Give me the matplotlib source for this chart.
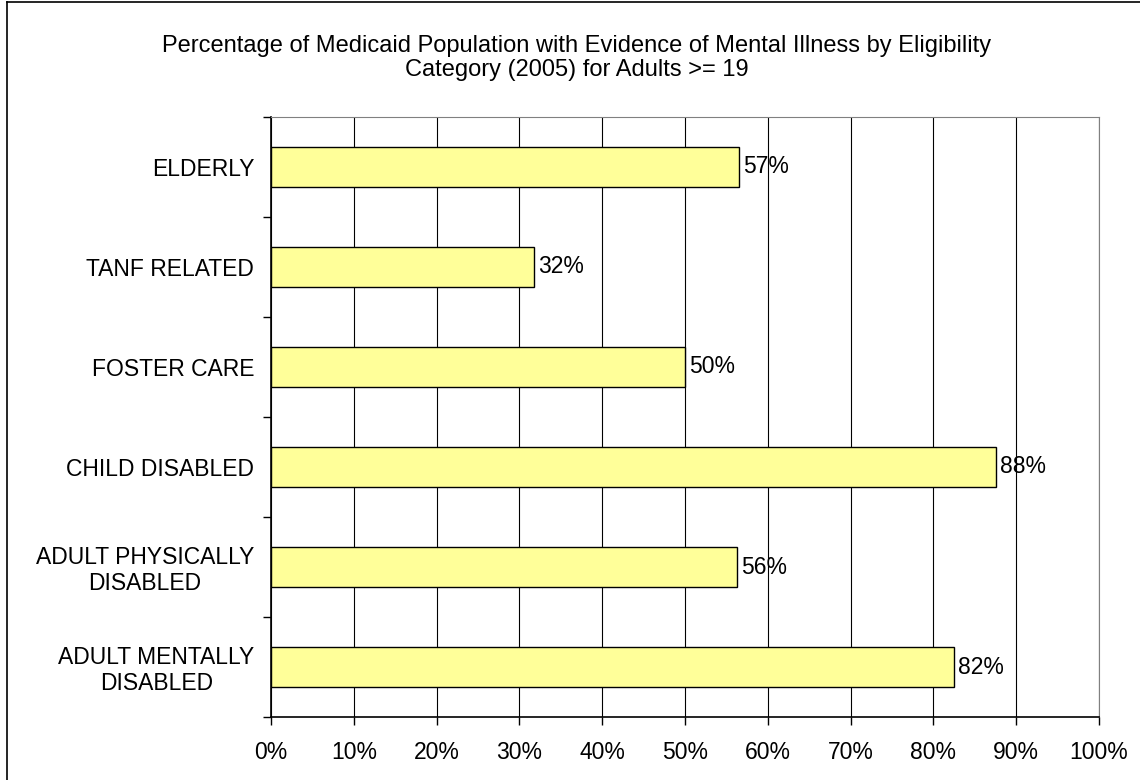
import matplotlib
matplotlib.use('Agg')
import matplotlib.pyplot as plt
from matplotlib.lines import Line2D

plt.rcParams['font.family'] = ['Liberation Sans', 'DejaVu Sans']

categories = [
    'ADULT MENTALLY\nDISABLED',
    'ADULT PHYSICALLY\nDISABLED',
    'CHILD DISABLED',
    'FOSTER CARE',
    'TANF RELATED',
    'ELDERLY',
]
values = [82.5, 56.3, 87.5, 50.0, 31.8, 56.5]
labels = ['82%', '56%', '88%', '50%', '32%', '57%']
x_ticks = list(range(0, 101, 10))

title = ('Percentage of Medicaid Population with Evidence of Mental Illness by Eligibility\n'
         'Category (2005) for Adults >= 19')

fs = 16.5

fig = plt.figure(figsize=(11.4, 7.8), dpi=100)
ax = fig.add_axes([271 / 1140, 1 - 717 / 780, 828 / 1140, 600 / 780])

y = list(range(len(categories)))
ax.barh(y, values, height=0.4, color='#FFFF99', edgecolor='black', linewidth=1, zorder=3)

for yi, v, lab in zip(y, values, labels):
    ax.text(v + 0.5, yi, lab, va='center', ha='left', fontsize=fs, zorder=4)

ax.set_xlim(0, 100)
ax.set_ylim(-0.5, len(categories) - 0.5)
ax.set_xticks(x_ticks)
ax.set_xticklabels([f'{t}%' for t in x_ticks], fontsize=fs)
ax.set_yticks(y)
ax.set_yticklabels(categories, fontsize=fs)
for t in ax.get_yticklabels():
    t.set_multialignment('center')
    t.set_linespacing(1.15)
ax.set_yticks([i - 0.5 for i in range(len(categories) + 1)], minor=True)

ax.tick_params(axis='y', which='major', length=0, pad=12)
ax.tick_params(axis='y', which='minor', length=6, direction='out', width=1)
ax.tick_params(axis='x', length=6, direction='out', width=1, pad=11)

ax.grid(axis='x', color='black', linewidth=0.8, zorder=0)
ax.set_axisbelow(True)

for s in ['top', 'right']:
    ax.spines[s].set_color('#808080')
for s in ['left', 'bottom']:
    ax.spines[s].set_color('black')
    ax.spines[s].set_linewidth(1.2)

fig.text(577 / 1140, 1 - 58 / 780, title, ha='center', va='center', fontsize=17, linespacing=1.1)

# outer chart border
fig.add_artist(Line2D([0.006, 0.006], [0, 0.997], transform=fig.transFigure, color='black', lw=1.2))
fig.add_artist(Line2D([0.006, 1], [0.997, 0.997], transform=fig.transFigure, color='black', lw=1.2))

fig.savefig('out.png', dpi=100)
